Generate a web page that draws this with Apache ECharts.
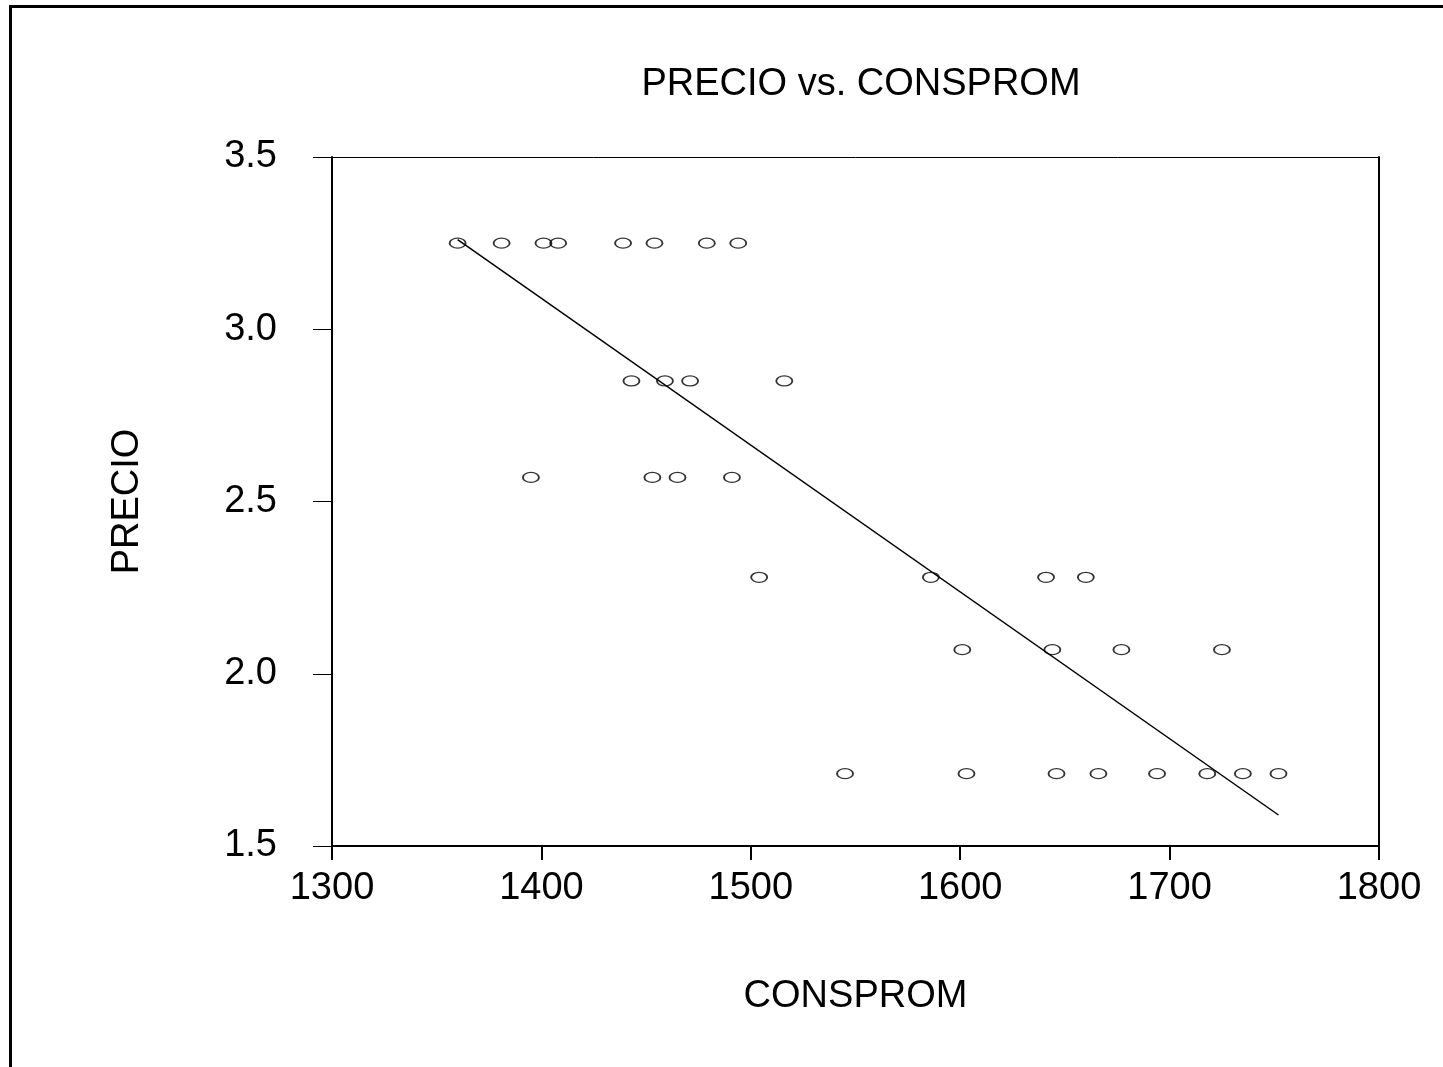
<!DOCTYPE html>
<html>
<head>
<meta charset="utf-8">
<script src="https://cdn.jsdelivr.net/npm/echarts@6/dist/echarts.min.js"></script>
<style>
  html, body { margin: 0; padding: 0; background: #fff; }
  #chart { width: 1443px; height: 1067px; }
</style>
</head>
<body>
<div id="chart"></div>
<script>
// CONSPROM (x) and PRECIO (y)
const consprom = [
  1360, 1381, 1401, 1408, 1439, 1454, 1479, 1494,
  1443, 1459, 1471, 1516,
  1395, 1453, 1465, 1491,
  1504, 1586, 1641, 1660,
  1601, 1644, 1677, 1725,
  1545, 1603, 1646, 1666, 1694, 1718, 1735, 1752
]
const precio = [
  3.25, 3.25, 3.25, 3.25, 3.25, 3.25, 3.25, 3.25,
  2.85, 2.85, 2.85, 2.85,
  2.57, 2.57, 2.57, 2.57,
  2.28, 2.28, 2.28, 2.28,
  2.07, 2.07, 2.07, 2.07,
  1.71, 1.71, 1.71, 1.71, 1.71, 1.71, 1.71, 1.71
]
// fitted line end points
const fitX = [1360, 1752]
const fitY = [3.26, 1.59]

const font = 'Liberation Sans, Arial, sans-serif'

const chart = echarts.init(document.getElementById('chart'), null, { renderer: 'canvas' })

const points = consprom.map((x, i) => [x, precio[i]])
const fitLine = fitX.map((x, i) => [x, fitY[i]])

const option = {
  animation: false,
  backgroundColor: '#fff',
  title: {
    text: 'PRECIO vs. CONSPROM',
    left: 856,
    top: 61,
    textAlign: 'center',
    textStyle: { fontFamily: font, fontSize: 38, fontWeight: 'normal', color: '#000' }
  },
  graphic: [
    {
      type: 'rect',
      shape: { x: 10.5, y: 6.5, width: 1500, height: 1100 },
      style: { fill: 'none', stroke: '#000', lineWidth: 3 },
      silent: true
    }
  ],
  grid: { left: 332, right: 64, top: 157, bottom: 221 },
  xAxis: [
    {
      type: 'value',
      min: 1300, max: 1800, interval: 100,
      name: 'CONSPROM',
      nameLocation: 'middle',
      nameGap: 132,
      nameTextStyle: { fontFamily: font, fontSize: 38, color: '#000' },
      axisLine: { show: true, lineStyle: { color: '#000', width: 2 } },
      axisTick: { show: true, length: 14, lineStyle: { color: '#000', width: 2 } },
      axisLabel: { fontFamily: font, fontSize: 38, color: '#000', margin: 24, formatter: v => String(v) },
      splitLine: { show: false }
    },
    {
      type: 'value', position: 'top',
      min: 1300, max: 1800, interval: 100,
      axisLine: { show: true, lineStyle: { color: '#000', width: 1 } },
      axisTick: { show: false }, axisLabel: { show: false }, splitLine: { show: false }
    }
  ],
  yAxis: [
    {
      type: 'value',
      min: 1.5, max: 3.5, interval: 0.5,
      name: 'PRECIO',
      nameLocation: 'middle',
      nameGap: 185,
      nameRotate: 90,
      nameTextStyle: { fontFamily: font, fontSize: 38, color: '#000' },
      axisLine: { show: true, lineStyle: { color: '#000', width: 2 } },
      axisTick: { show: true, length: 19, lineStyle: { color: '#000', width: 1 } },
      axisLabel: {
        fontFamily: font, fontSize: 38, color: '#000', margin: 55,
        formatter: v => v.toFixed(1)
      },
      splitLine: { show: false }
    },
    {
      type: 'value', position: 'right',
      min: 1.5, max: 3.5, interval: 0.5,
      axisLine: { show: true, lineStyle: { color: '#000', width: 2 } },
      axisTick: { show: false }, axisLabel: { show: false }, splitLine: { show: false }
    }
  ],
  series: [
    {
      type: 'scatter',
      data: points,
      symbol: 'circle',
      symbolSize: [16, 10],
      itemStyle: { color: 'rgba(255,255,255,0)', borderColor: '#000', borderWidth: 1.5 },
      z: 3
    },
    {
      type: 'line',
      data: fitLine,
      symbol: 'none',
      lineStyle: { color: '#000', width: 1.5 },
      z: 2
    }
  ]
}

chart.setOption(option)
</script>
</body>
</html>
